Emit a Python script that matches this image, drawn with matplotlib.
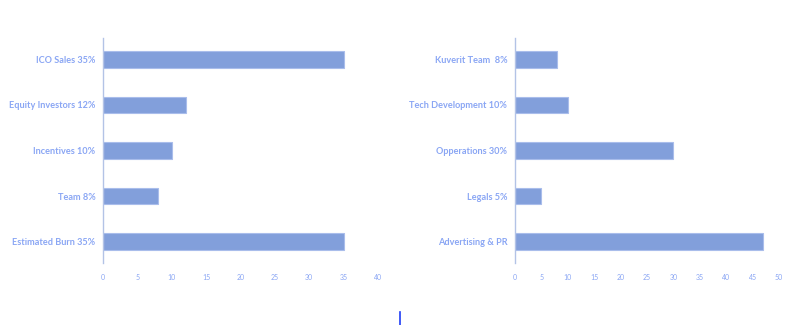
import matplotlib.pyplot as plt
from matplotlib.lines import Line2D

# token allocation, left panel
alloc_labels = ["ICO Sales 35%", "Equity Investors 12%", "Incentives 10%",
                "Team 8%", "Estimated Burn 35%"]
alloc_values = [35, 12, 10, 8, 35]

# use of funds, right panel
funds_labels = ["Kuverit Team  8%", "Tech Development 10%", "Opperations 30%",
                "Legals 5%", "Advertising & PR"]
funds_values = [8, 10, 30, 5, 47]

bar_color = "#829fdb"
edge_color = "#a9bdeb"
label_color = "#8aa6f4"
axis_color = "#b3c3e6"

plt.rcParams["font.family"] = ["Lato", "DejaVu Sans"]

fig = plt.figure(figsize=(8, 3.25), dpi=100)
fig.patch.set_facecolor("white")


def draw_panel(rect, labels, values, xmax):
    ax = fig.add_axes(rect)
    pos = list(range(len(labels)))
    ax.barh(pos, values, height=0.37, color=bar_color,
            edgecolor=edge_color, linewidth=0.8)
    ax.set_yticks(pos)
    ax.set_yticklabels(labels, fontsize=6.6, fontweight="bold", color=label_color)
    ax.set_xlim(0, xmax)
    ax.set_xticks(range(0, xmax + 1, 5))
    ax.tick_params(axis="x", labelsize=5, colors=label_color, length=0, pad=8)
    ax.tick_params(axis="y", length=0, pad=5.5)
    ax.set_ylim(4.47, -0.47)
    for s in ["top", "right", "bottom"]:
        ax.spines[s].set_visible(False)
    ax.spines["left"].set_color(axis_color)
    ax.spines["left"].set_linewidth(1.0)
    ax.set_facecolor("white")
    return ax


draw_panel([0.12875, 0.191, 0.34375, 0.692], alloc_labels, alloc_values, 40)
draw_panel([0.64375, 0.191, 0.33, 0.692], funds_labels, funds_values, 50)

# text cursor mark under the charts
fig.add_artist(Line2D([0.4995, 0.4995], [0.0, 0.04], color="#1f3df5",
                      linewidth=1.2, transform=fig.transFigure))

fig.savefig("out.png", dpi=100, facecolor="white")
